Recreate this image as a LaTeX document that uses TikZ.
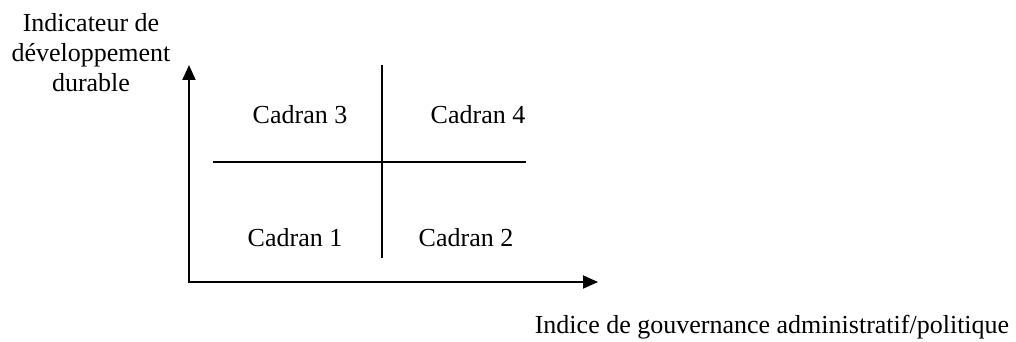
\documentclass[tikz,border=0pt]{standalone}
\usepackage{fontspec}
\setmainfont{Liberation Serif}
\usetikzlibrary{arrows.meta}
\begin{document}
\begin{tikzpicture}[x=1pt,y=-1pt,
  lbl/.style={font=\fontsize{26}{30}\selectfont, inner sep=0pt},
  divider/.style={line width=1.8pt}]
\useasboundingbox (0,0) rectangle (1016,342);
\coordinate (O) at (189,282);
\coordinate (ytip) at (189,65);
\coordinate (xtip) at (598,282);
\coordinate (vtop) at (382,65);
\coordinate (vbot) at (382,258);
\coordinate (hl) at (213,162);
\coordinate (hr) at (526,162);
\draw[line width=2pt, {Triangle[length=15pt,width=13pt]}-{Triangle[length=15pt,width=13pt]}] (ytip) -- (O) -- (xtip);
\draw[divider] (vtop) -- (vbot);
\draw[divider] (hl) -- (hr);
\node[lbl, anchor=base] (c3) at (300,123) {Cadran 3};
\node[lbl, anchor=base] (c4) at (478,123) {Cadran 4};
\node[lbl, anchor=base] (c1) at (295,246) {Cadran 1};
\node[lbl, anchor=base] (c2) at (466,246) {Cadran 2};
\node[lbl, align=center, anchor=north] (ylab) at (91,13) {Indicateur de\\développement\\durable};
\node[lbl, anchor=base] (xlab) at (772,333) {Indice de gouvernance administratif/politique};
\end{tikzpicture}
\end{document}
